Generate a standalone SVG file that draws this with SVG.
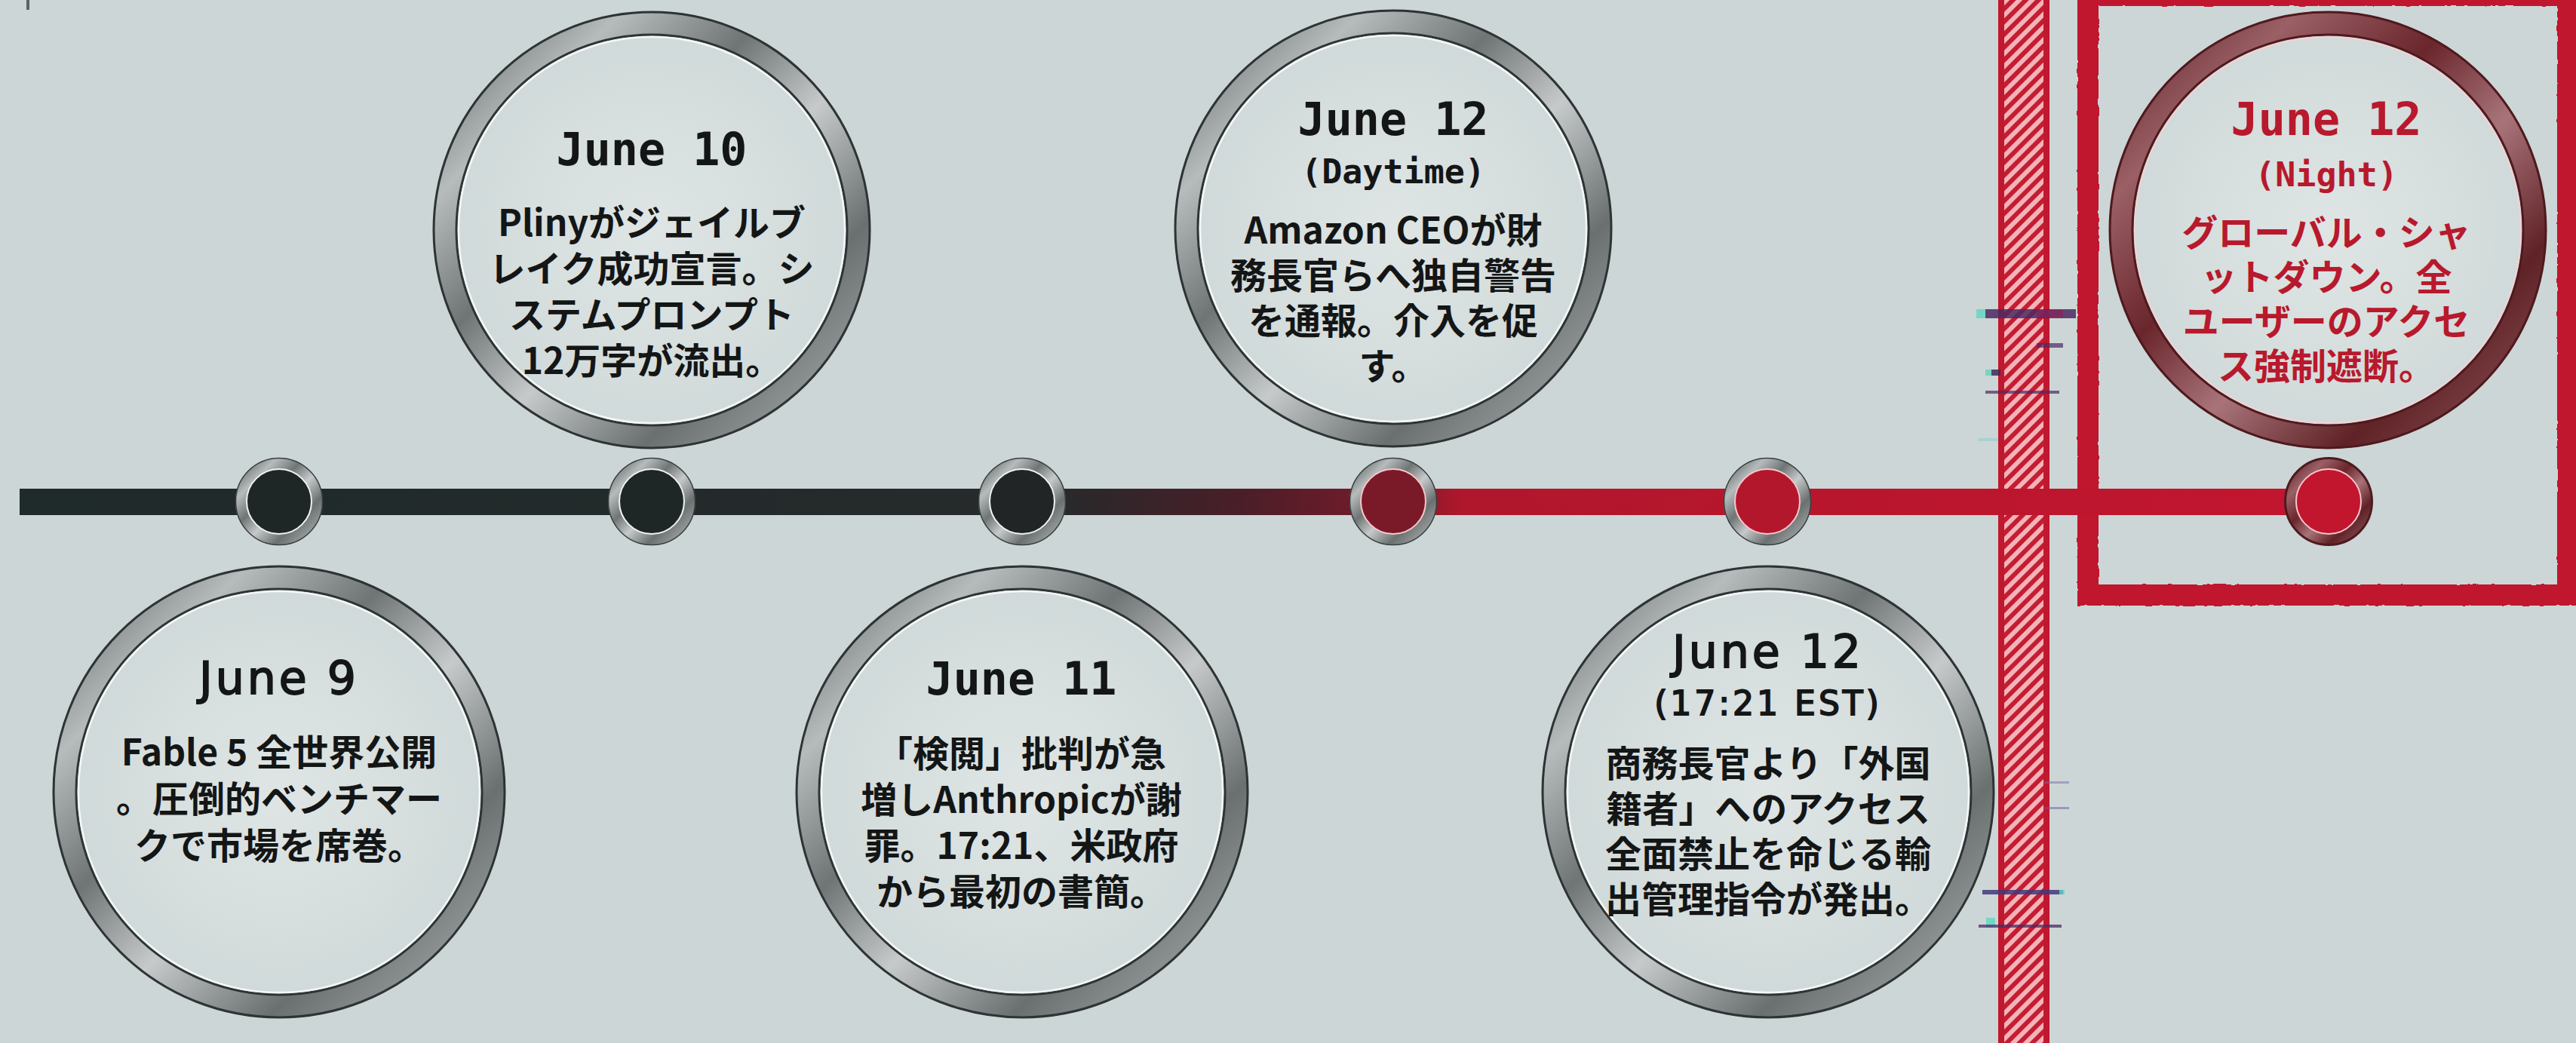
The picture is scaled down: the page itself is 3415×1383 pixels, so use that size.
<svg xmlns="http://www.w3.org/2000/svg" width="3415" height="1383" viewBox="0 0 3415 1383">
<defs>
<style>
.ring{stroke:url(#metal);stroke-width:32;fill:url(#face)}
.ringR{stroke:url(#metalR);stroke-width:32;fill:url(#face)}
.edge{fill:none;stroke:#2e3333;stroke-width:3}
.edgeR{fill:none;stroke:#4e1a1e;stroke-width:3}
.hl{fill:none;stroke:#f3f6f6;stroke-width:2.5}
.hlR{fill:none;stroke:#f0d2d5;stroke-width:2}
.nring{stroke:url(#metal);stroke-width:15}
.nringR{stroke:url(#metalR);stroke-width:15}
.nedge{fill:none;stroke:#3a3f3f;stroke-width:1.5}
.nhl{fill:none;stroke:#eef2f2;stroke-width:2}
.nhlR{fill:none;stroke:#f7c6cc;stroke-width:2}
.mono{font-family:"DejaVu Sans Mono","Liberation Mono",monospace;font-weight:700;text-anchor:middle;fill:#141616}
.sans{font-family:"DejaVu Sans","Liberation Sans",sans-serif;font-weight:400;text-anchor:middle;fill:#141616;stroke:#141616;stroke-width:1.8}
.body{font-family:"Noto Sans CJK JP","Noto Sans",sans-serif;font-weight:700;font-size:48px;text-anchor:middle;fill:#141616}
.red{fill:#b8192c}
.date{font-size:60px}
.sub{font-size:45px}
</style>
<linearGradient id="metal" x1="0" y1="0" x2="1" y2="1">
<stop offset="0" stop-color="#5d6262"/>
<stop offset="0.2" stop-color="#b6bbbb"/>
<stop offset="0.38" stop-color="#6f7474"/>
<stop offset="0.55" stop-color="#c6caca"/>
<stop offset="0.75" stop-color="#6a6f6f"/>
<stop offset="1" stop-color="#aeb3b3"/>
</linearGradient>
<linearGradient id="metalR" x1="0" y1="0" x2="1" y2="1">
<stop offset="0" stop-color="#5e2226"/>
<stop offset="0.2" stop-color="#9a6066"/>
<stop offset="0.4" stop-color="#6a262c"/>
<stop offset="0.58" stop-color="#a8747a"/>
<stop offset="0.78" stop-color="#5f2226"/>
<stop offset="1" stop-color="#8e565c"/>
</linearGradient>
<radialGradient id="face" cx="0.5" cy="0.5" r="0.5">
<stop offset="0" stop-color="#dfe5e5"/>
<stop offset="1" stop-color="#d0d9d9"/>
</radialGradient>
<linearGradient id="lineGrad" gradientUnits="userSpaceOnUse" x1="26" y1="0" x2="3087" y2="0">
<stop offset="0" stop-color="#1f2a2a"/>
<stop offset="0.447" stop-color="#262a2b"/>
<stop offset="0.53" stop-color="#4a1e28"/>
<stop offset="0.6" stop-color="#7e1a2a"/>
<stop offset="0.625" stop-color="#b0172c"/>
<stop offset="1" stop-color="#c3152f"/>
</linearGradient>
<pattern id="hatch" patternUnits="userSpaceOnUse" width="12" height="12" patternTransform="rotate(45)">
<rect width="12" height="12" fill="#f3b3ba"/>
<rect width="6" height="12" fill="#c41d31"/>
</pattern>
<filter id="rough" filterUnits="userSpaceOnUse" x="2700" y="-50" width="760" height="900">
<feTurbulence type="fractalNoise" baseFrequency="0.09" numOctaves="2" seed="3"/>
<feDisplacementMap in="SourceGraphic" scale="3" xChannelSelector="R" yChannelSelector="G"/>
</filter>
</defs>

<rect width="3415" height="1383" fill="#ccd6d6"/>
<rect x="35" y="0" width="4" height="13" fill="#5a6262"/>

<g id="decor">
<rect x="2653" y="-10" width="60" height="1403" fill="url(#hatch)" stroke="#c0182e" stroke-width="8"/>
<rect x="2768" y="-6" width="636" height="795" fill="none" stroke="#c0162e" stroke-width="28" filter="url(#rough)"/>
<g id="glitch">
<rect x="2620" y="410" width="12" height="12" fill="#5fd6c0" opacity="0.8"/>
<rect x="2632" y="410" width="120" height="12" fill="#4b2a62" opacity="0.85"/>
<rect x="2700" y="411" width="35" height="10" fill="#8a1f55" opacity="0.7"/>
<rect x="2700" y="455" width="35" height="6" fill="#4b2a62" opacity="0.7"/>
<rect x="2632" y="490" width="8" height="8" fill="#5fd6c0" opacity="0.8"/>
<rect x="2640" y="490" width="12" height="8" fill="#3c2a5a" opacity="0.85"/>
<rect x="2632" y="518" width="98" height="4" fill="#4b2a62" opacity="0.7"/>
<rect x="2622" y="581" width="27" height="4" fill="#8fd0c8" opacity="0.6"/>
<rect x="2710" y="1036" width="33" height="3" fill="#7a6aa0" opacity="0.5"/>
<rect x="2710" y="1070" width="33" height="3" fill="#6a5a9a" opacity="0.5"/>
<rect x="2628" y="1180" width="107" height="6" fill="#3f3a7a" opacity="0.85"/>
<rect x="2730" y="1180" width="7" height="6" fill="#5fd6c0" opacity="0.8"/>
<rect x="2633" y="1217" width="12" height="13" fill="#5fd6c0" opacity="0.8"/>
<rect x="2623" y="1226" width="110" height="4" fill="#4b2a62" opacity="0.75"/>
</g>
</g>

<g id="connectors">
<rect x="26" y="648" width="3061" height="35" fill="url(#lineGrad)"/>
</g>

<g id="june9">
<circle cx="370" cy="665" r="50.5" class="nring"/>
<circle cx="370" cy="665" r="43" fill="#1f2626"/>
<circle cx="370" cy="665" r="43" class="nhl"/>
<circle cx="370" cy="665" r="57.5" class="nedge"/>
<circle cx="370" cy="1050" r="284" class="ring"/>
<circle cx="370" cy="1050" r="299" class="edge"/>
<circle cx="370" cy="1050" r="269" class="edge"/>
<circle cx="370" cy="1050" r="266" class="hl"/>
<text x="370" y="920" class="sans date" font-size="62" letter-spacing="4">June 9</text>
<text x="370" y="1015" class="body">Fable 5 全世界公開</text>
<text x="370" y="1077" class="body">。圧倒的ベンチマー</text>
<text x="370" y="1139" class="body">クで市場を席巻。</text>
</g>

<g id="june10">
<circle cx="864" cy="665" r="50.5" class="nring"/>
<circle cx="864" cy="665" r="43" fill="#1f2626"/>
<circle cx="864" cy="665" r="43" class="nhl"/>
<circle cx="864" cy="665" r="57.5" class="nedge"/>
<circle cx="864" cy="305" r="274" class="ring"/>
<circle cx="864" cy="305" r="289" class="edge"/>
<circle cx="864" cy="305" r="259" class="edge"/>
<circle cx="864" cy="305" r="256" class="hl"/>
<text x="864" y="219" class="mono date">June 10</text>
<text x="864" y="313" class="body">Plinyがジェイルブ</text>
<text x="864" y="374" class="body">レイク成功宣言。シ</text>
<text x="864" y="435" class="body">ステムプロンプト</text>
<text x="864" y="496" class="body">12万字が流出。</text>
</g>

<g id="june11">
<circle cx="1355" cy="665" r="50.5" class="nring"/>
<circle cx="1355" cy="665" r="43" fill="#222526"/>
<circle cx="1355" cy="665" r="43" class="nhl"/>
<circle cx="1355" cy="665" r="57.5" class="nedge"/>
<circle cx="1355" cy="1050" r="284" class="ring"/>
<circle cx="1355" cy="1050" r="299" class="edge"/>
<circle cx="1355" cy="1050" r="269" class="edge"/>
<circle cx="1355" cy="1050" r="266" class="hl"/>
<text x="1354" y="921" class="mono date">June 11</text>
<text x="1354" y="1017" class="body">「検閲」批判が急</text>
<text x="1354" y="1078" class="body">増しAnthropicが謝</text>
<text x="1354" y="1139" class="body">罪。17:21、米政府</text>
<text x="1354" y="1200" class="body">から最初の書簡。</text>
</g>

<g id="june12day">
<circle cx="1847" cy="665" r="50.5" class="nring"/>
<circle cx="1847" cy="665" r="43" fill="#7a1a28"/>
<circle cx="1847" cy="665" r="43" class="nhlR"/>
<circle cx="1847" cy="665" r="57.5" class="nedge"/>
<circle cx="1847" cy="303" r="274" class="ring"/>
<circle cx="1847" cy="303" r="289" class="edge"/>
<circle cx="1847" cy="303" r="259" class="edge"/>
<circle cx="1847" cy="303" r="256" class="hl"/>
<text x="1847" y="179" class="mono date">June 12</text>
<text x="1847" y="243" class="mono sub">(Daytime)</text>
<text x="1847" y="323" class="body">Amazon CEOが財</text>
<text x="1847" y="383" class="body">務長官らへ独自警告</text>
<text x="1847" y="443" class="body">を通報。介入を促</text>
<text x="1847" y="503" class="body">す。</text>
</g>

<g id="june12est">
<circle cx="2343" cy="665" r="50.5" class="nring"/>
<circle cx="2343" cy="665" r="43" fill="#b3172c"/>
<circle cx="2343" cy="665" r="43" class="nhlR"/>
<circle cx="2343" cy="665" r="57.5" class="nedge"/>
<circle cx="2344" cy="1050" r="284" class="ring"/>
<circle cx="2344" cy="1050" r="299" class="edge"/>
<circle cx="2344" cy="1050" r="269" class="edge"/>
<circle cx="2344" cy="1050" r="266" class="hl"/>
<text x="2344" y="885" class="sans date" font-size="62" letter-spacing="4">June 12</text>
<text x="2344" y="948" class="sans" font-size="44" letter-spacing="4" stroke-width="1.4">(17:21 EST)</text>
<text x="2344" y="1030" class="body">商務長官より「外国</text>
<text x="2344" y="1090" class="body">籍者」へのアクセス</text>
<text x="2344" y="1150" class="body">全面禁止を命じる輸</text>
<text x="2344" y="1210" class="body">出管理指令が発出。</text>
</g>

<g id="june12night">
<circle cx="3087" cy="665" r="50.5" class="nringR"/>
<circle cx="3087" cy="665" r="43" fill="#c2162e"/>
<circle cx="3087" cy="665" r="43" class="nhlR"/>
<circle cx="3087" cy="665" r="57.5" class="edgeR" stroke-width="1.5"/>
<circle cx="3086" cy="305" r="274" class="ringR"/>
<circle cx="3086" cy="305" r="289" class="edgeR"/>
<circle cx="3086" cy="305" r="259" class="edgeR"/>
<circle cx="3086" cy="305" r="256" class="hlR"/>
<text x="3084" y="179" class="mono date red">June 12</text>
<text x="3084" y="247" class="mono sub red">(Night)</text>
<text x="3084" y="326" class="body red">グローバル・シャ</text>
<text x="3084" y="385" class="body red">ットダウン。全</text>
<text x="3084" y="444" class="body red">ユーザーのアクセ</text>
<text x="3084" y="503" class="body red">ス強制遮断。</text>
</g>
</svg>
